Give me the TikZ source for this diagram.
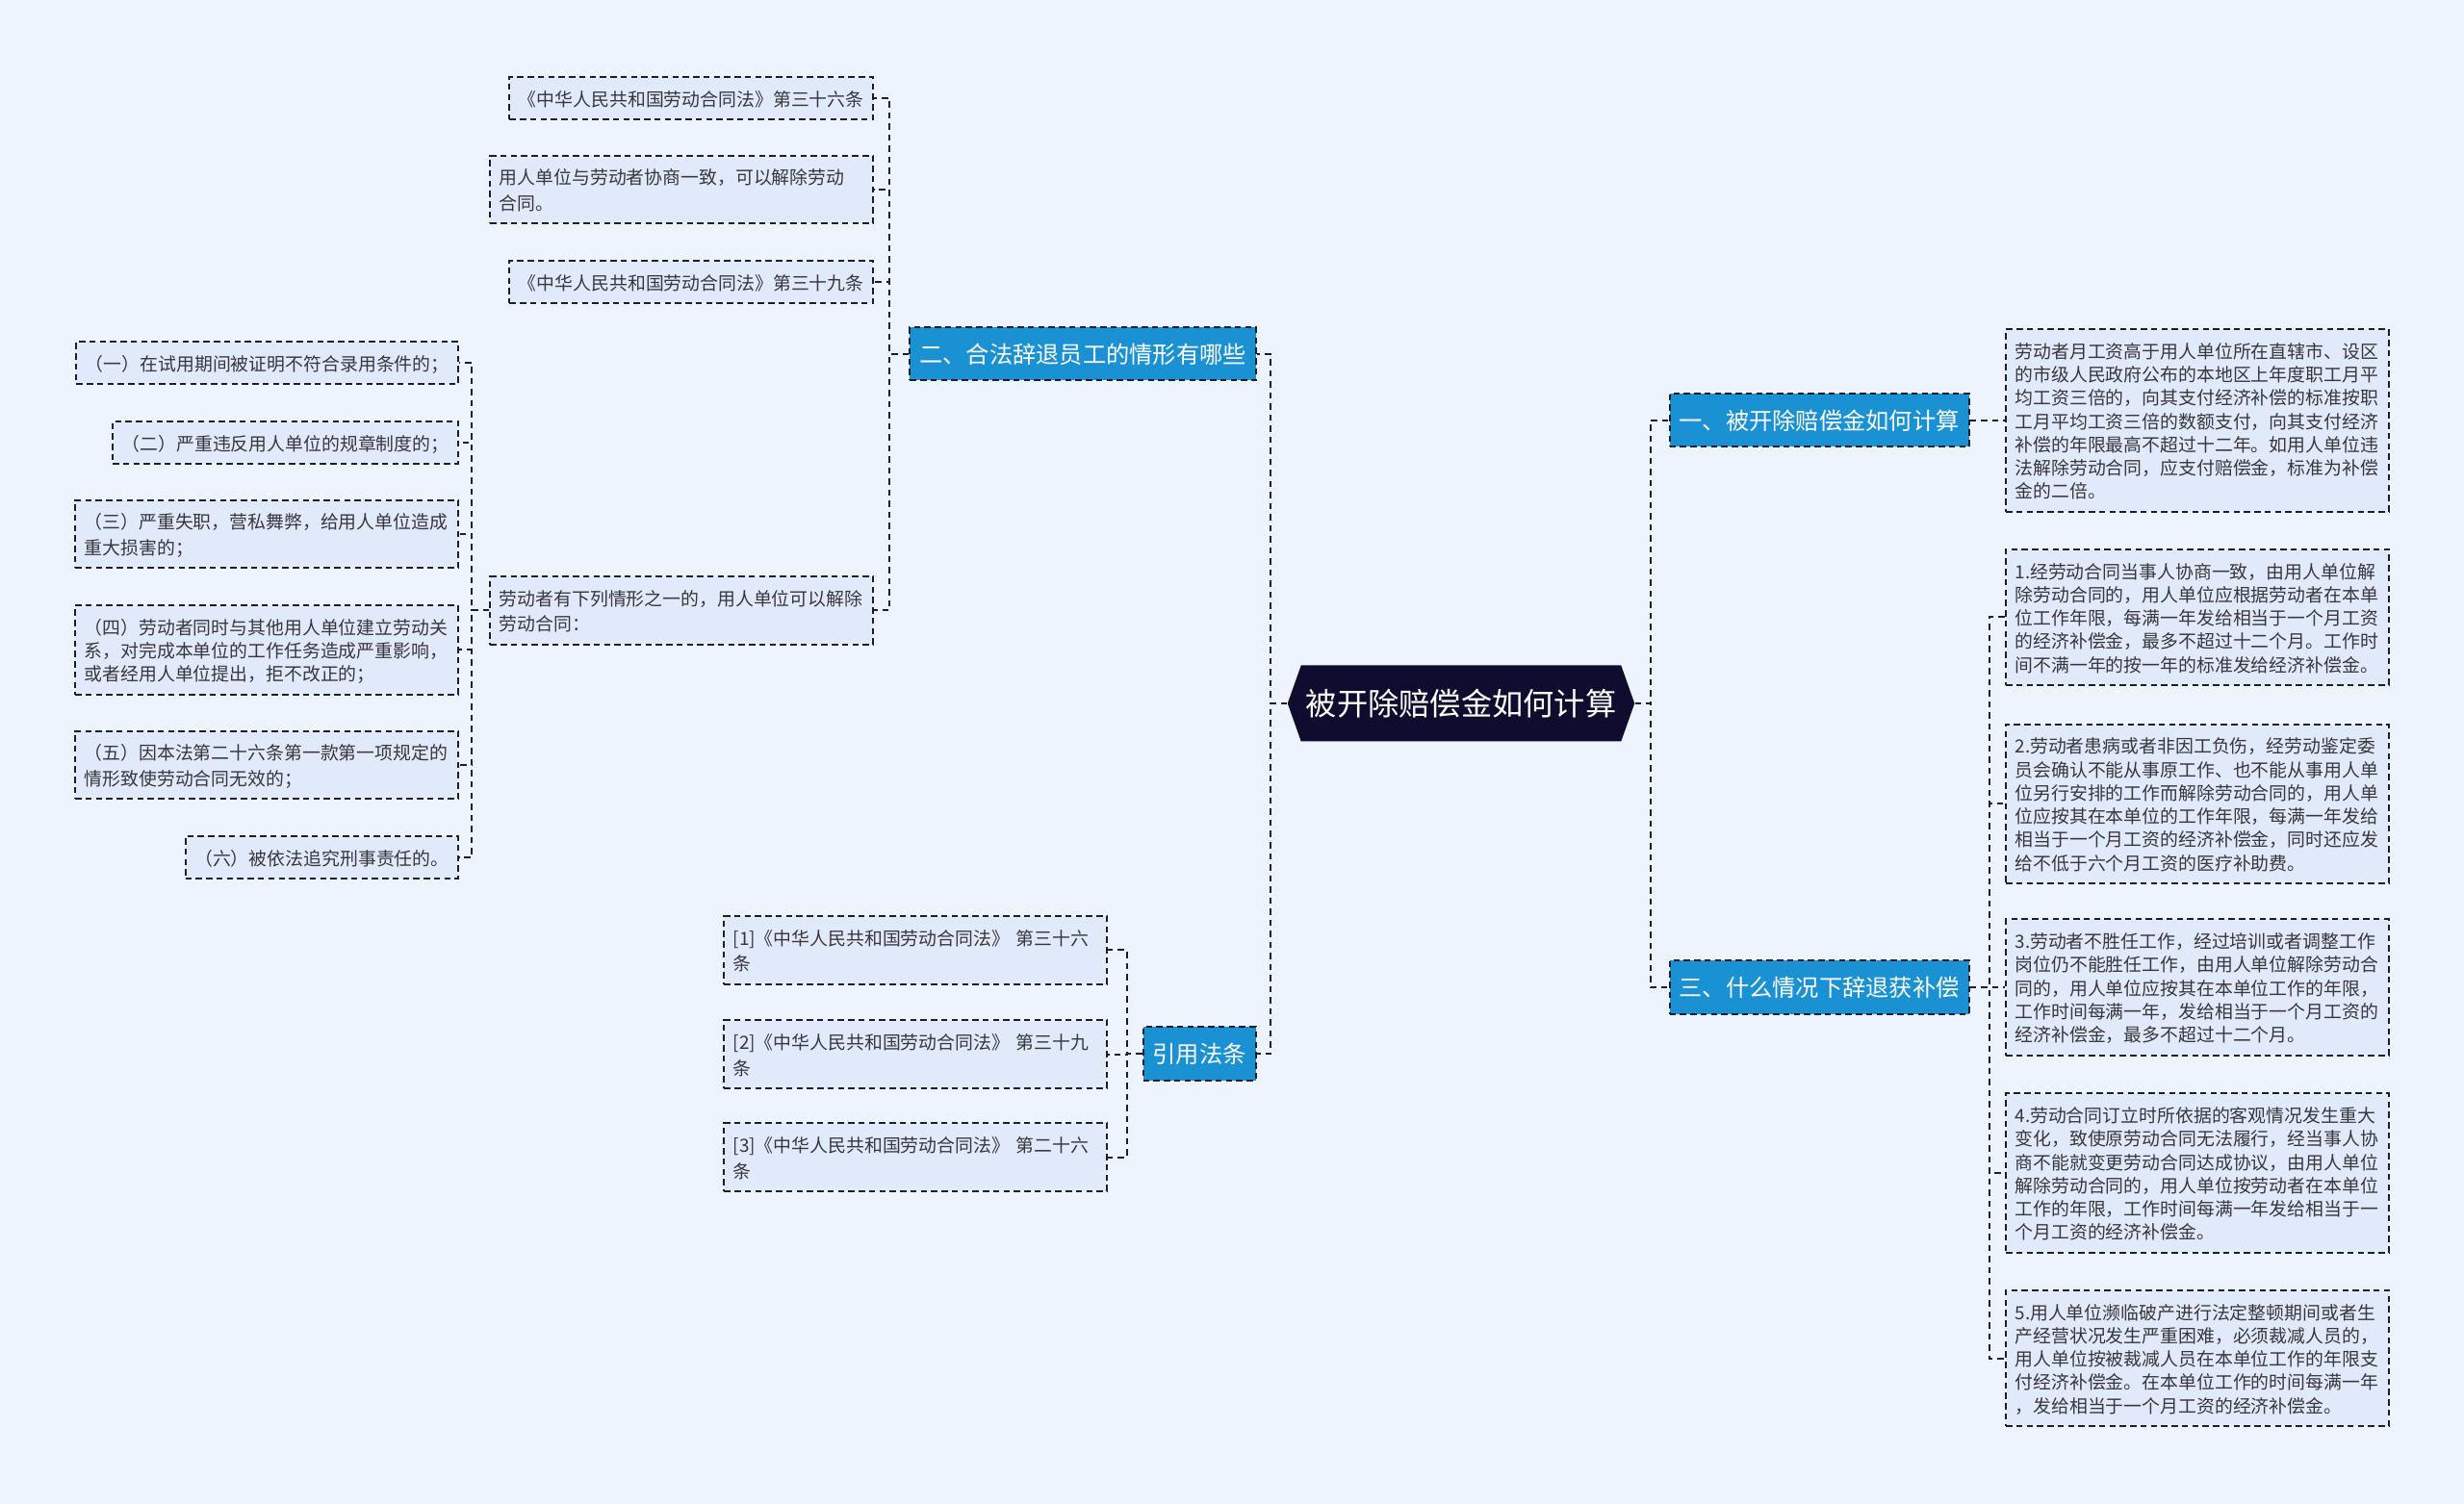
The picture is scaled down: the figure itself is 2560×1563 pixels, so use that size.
\documentclass[tikz,border=0pt]{standalone}
\usepackage{fontspec}
\setmainfont{Noto Sans CJK SC}
\usetikzlibrary{shapes.symbols}
\definecolor{bgcol}{RGB}{238,244,253}
\definecolor{leafcol}{RGB}{225,234,250}
\definecolor{branchcol}{RGB}{26,145,210}
\definecolor{rootcol}{RGB}{16,12,48}
\definecolor{edgecol}{RGB}{30,30,42}
\definecolor{txtcol}{RGB}{55,55,60}
\newcommand{\leafstrut}{\vrule width 0pt height 8.1pt depth 1.6pt}
\begin{document}
\begin{tikzpicture}[x=0.4pt,y=-0.4pt,
  every node/.style={font=\fontsize{7.55pt}{9.7pt}\selectfont},
  leaf/.style={draw=edgecol,line width=0.8pt,dash pattern=on 2.6pt off 1.7pt,fill=leafcol,text=txtcol,
    inner xsep=3.8pt,inner ysep=3.95pt,execute at begin node={\noindent\leafstrut},execute at end node={\leafstrut}},
  leafw/.style={leaf,text width=151.5pt,align=left},
  branch/.style={draw=edgecol,line width=0.8pt,dash pattern=on 2.6pt off 1.7pt,fill=branchcol,text=white,
    font=\fontsize{9.7pt}{12pt}\selectfont,inner xsep=4pt,minimum height=22pt},
  link/.style={draw=edgecol,line width=0.8pt,dash pattern=on 2.6pt off 2pt}]
\fill[bgcol] (0,0) rectangle (2560,1563);
% Root
\node[shape=signal,signal to=west and east,signal pointer angle=141,fill=rootcol,text=white,
  font=\fontsize{12.9pt}{15pt}\selectfont,minimum height=31.6pt,inner xsep=2pt] (root) at (1518,731) {被开除赔偿金如何计算};
% Main branches
\node[branch] (sec1) at (1890,437) {一、被开除赔偿金如何计算};
\node[branch] (sec3) at (1890,1026) {三、什么情况下辞退获补偿};
\node[branch] (sec2) at (1125,368) {二、合法辞退员工的情形有哪些};
\node[branch] (cite) at (1246,1095) {引用法条};
% Right side
\node[leafw,anchor=west] (pay) at (2083,437) {劳动者月工资高于用人单位所在直辖市、设区\\的市级人民政府公布的本地区上年度职工月平\\均工资三倍的，向其支付经济补偿的标准按职\\工月平均工资三倍的数额支付，向其支付经济\\补偿的年限最高不超过十二年。如用人单位违\\法解除劳动合同，应支付赔偿金，标准为补偿\\金的二倍。};
\node[leafw,anchor=west] (s1) at (2083,641.5) {1.经劳动合同当事人协商一致，由用人单位解\\除劳动合同的，用人单位应根据劳动者在本单\\位工作年限，每满一年发给相当于一个月工资\\的经济补偿金，最多不超过十二个月。工作时\\间不满一年的按一年的标准发给经济补偿金。};
\node[leafw,anchor=west] (s2) at (2083,835.5) {2.劳动者患病或者非因工负伤，经劳动鉴定委\\员会确认不能从事原工作、也不能从事用人单\\位另行安排的工作而解除劳动合同的，用人单\\位应按其在本单位的工作年限，每满一年发给\\相当于一个月工资的经济补偿金，同时还应发\\给不低于六个月工资的医疗补助费。};
\node[leafw,anchor=west] (s3) at (2083,1026) {3.劳动者不胜任工作，经过培训或者调整工作\\岗位仍不能胜任工作，由用人单位解除劳动合\\同的，用人单位应按其在本单位工作的年限，\\工作时间每满一年，发给相当于一个月工资的\\经济补偿金，最多不超过十二个月。};
\node[leafw,anchor=west] (s4) at (2083,1219) {4.劳动合同订立时所依据的客观情况发生重大\\变化，致使原劳动合同无法履行，经当事人协\\商不能就变更劳动合同达成协议，由用人单位\\解除劳动合同的，用人单位按劳动者在本单位\\工作的年限，工作时间每满一年发给相当于一\\个月工资的经济补偿金。};
\node[leafw,anchor=west] (s5) at (2083,1411.5) {5.用人单位濒临破产进行法定整顿期间或者生\\产经营状况发生严重困难，必须裁减人员的，\\用人单位按被裁减人员在本单位工作的年限支\\付经济补偿金。在本单位工作的时间每满一年\\，发给相当于一个月工资的经济补偿金。};
% Left side
\node[leaf,anchor=east] (law36) at (908,102) {《中华人民共和国劳动合同法》第三十六条};
\node[leafw,anchor=east] (agree) at (908,197) {用人单位与劳动者协商一致，可以解除劳动\\合同。};
\node[leaf,anchor=east] (law39) at (908,293) {《中华人民共和国劳动合同法》第三十九条};
\node[leafw,anchor=east] (cases) at (908,634.5) {劳动者有下列情形之一的，用人单位可以解除\\劳动合同：};
\node[leaf,anchor=east] (c1) at (477,377) {（一）在试用期间被证明不符合录用条件的；};
\node[leaf,anchor=east] (c2) at (477,460) {（二）严重违反用人单位的规章制度的；};
\node[leafw,anchor=east] (c3) at (477,555) {（三）严重失职，营私舞弊，给用人单位造成\\重大损害的；};
\node[leafw,anchor=east] (c4) at (477,675.5) {（四）劳动者同时与其他用人单位建立劳动关\\系，对完成本单位的工作任务造成严重影响，\\或者经用人单位提出，拒不改正的；};
\node[leafw,anchor=east] (c5) at (477,795) {（五）因本法第二十六条第一款第一项规定的\\情形致使劳动合同无效的；};
\node[leaf,anchor=east] (c6) at (477,891) {（六）被依法追究刑事责任的。};
\node[leafw,anchor=east] (ref1) at (1151,987.5) {[1]《中华人民共和国劳动合同法》 第三十六\\条};
\node[leafw,anchor=east] (ref2) at (1151,1095.5) {[2]《中华人民共和国劳动合同法》 第三十九\\条};
\node[leafw,anchor=east] (ref3) at (1151,1202.5) {[3]《中华人民共和国劳动合同法》 第二十六\\条};
% Connectors
\foreach \n in {sec1,sec3} \draw[link] (root.east) -- ++(16,0) |- (\n.west);
\foreach \n in {sec2,cite} \draw[link] (root.west) -- ++(-17,0) |- (\n.east);
\draw[link] (sec1.east) -- (pay.west);
\foreach \n in {s1,s2,s3,s4,s5} \draw[link] (sec3.east) -- ++(20,0) |- (\n.west);
\foreach \n in {law36,agree,law39,cases} \draw[link] (sec2.west) -- ++(-20,0) |- (\n.east);
\foreach \n in {c1,c2,c3,c4,c5,c6} \draw[link] (cases.west) -- ++(-18,0) |- (\n.east);
\foreach \n in {ref1,ref2,ref3} \draw[link] (cite.west) -- ++(-16,0) |- (\n.east);
\end{tikzpicture}
\end{document}
